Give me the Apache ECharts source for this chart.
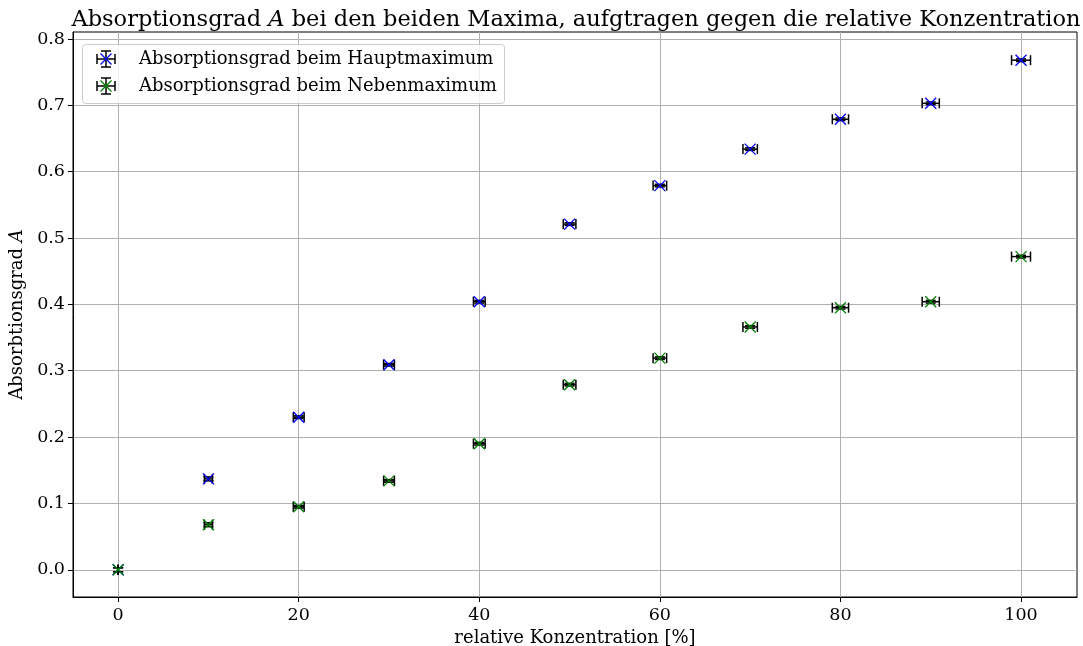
<!DOCTYPE html>
<html>
<head>
<meta charset="utf-8">
<title>Absorptionsgrad</title>
<script src="https://cdn.jsdelivr.net/npm/echarts@6/dist/echarts.min.js"></script>
<style>
  html, body { margin: 0; padding: 0; background: #ffffff; }
  #chart { width: 1083px; height: 646px; }
</style>
</head>
<body>
<div id="chart"></div>
<script>
// relative Konzentration in %
const konzentration = [0, 10, 20, 30, 40, 50, 60, 70, 80, 90, 100];
// Unsicherheit der Konzentration
const konzentrationFehler = [0, 0.45, 0.6, 0.6, 0.65, 0.7, 0.75, 0.8, 0.9, 0.95, 1.05];
// Absorptionsgrad beim Hauptmaximum
const hauptmaximum = [0.0, 0.137, 0.230, 0.309, 0.404, 0.521, 0.579, 0.634, 0.679, 0.703, 0.768];
// Absorptionsgrad beim Nebenmaximum
const nebenmaximum = [0.0, 0.068, 0.095, 0.134, 0.190, 0.279, 0.319, 0.366, 0.395, 0.404, 0.472];
// Unsicherheit des Absorptionsgrads
const absorptionFehler = [0.003, 0.003, 0.002, 0.002, 0.002, 0.002, 0.002, 0.002, 0.002, 0.002, 0.002];

const xTicks = [0, 20, 40, 60, 80, 100];
const yTicks = [0.0, 0.1, 0.2, 0.3, 0.4, 0.5, 0.6, 0.7, 0.8];

const FONT = '"DejaVu Serif", "Liberation Serif", serif';
const BAR_COLOR = '#000000';
const CAP = 5;     // half cap length in px
const MARK = 5.5;  // half marker size in px

function rows(values) {
  return konzentration.map((x, i) => [x, values[i], konzentrationFehler[i], absorptionFehler[i]]);
}

function errorbarItem(color) {
  return function (params, api) {
    const x = api.value(0), y = api.value(1), ex = api.value(2), ey = api.value(3);
    const c = api.coord([x, y]);
    const l = api.coord([x - ex, y]);
    const r = api.coord([x + ex, y]);
    const t = api.coord([x, y + ey]);
    const b = api.coord([x, y - ey]);
    const bar = { stroke: BAR_COLOR, lineWidth: 1.5 };
    const mk = { stroke: color, lineWidth: 1.3 };
    const line = (x1, y1, x2, y2, style) => ({
      type: 'line', shape: { x1, y1, x2, y2 }, style
    });
    return {
      type: 'group',
      children: [
        line(l[0], c[1], r[0], c[1], bar),
        line(l[0], c[1] - CAP, l[0], c[1] + CAP, bar),
        line(r[0], c[1] - CAP, r[0], c[1] + CAP, bar),
        line(c[0], t[1], c[0], b[1], bar),
        line(c[0] - CAP, t[1], c[0] + CAP, t[1], bar),
        line(c[0] - CAP, b[1], c[0] + CAP, b[1], bar),
        line(c[0] - MARK, c[1] - MARK, c[0] + MARK, c[1] + MARK, mk),
        line(c[0] - MARK, c[1] + MARK, c[0] + MARK, c[1] - MARK, mk)
      ]
    };
  };
}

// legend entry icon: error cross with caps and coloured x marker
function legendIcon(cx, cy, color) {
  const bar = { stroke: BAR_COLOR, lineWidth: 1.5 };
  const mk = { stroke: color, lineWidth: 1.3 };
  const ln = (x1, y1, x2, y2, style) => ({ type: 'line', shape: { x1, y1, x2, y2 }, style });
  return [
    ln(cx - 9, cy, cx + 9, cy, bar),
    ln(cx - 9, cy - CAP, cx - 9, cy + CAP, bar),
    ln(cx + 9, cy - CAP, cx + 9, cy + CAP, bar),
    ln(cx, cy - 8, cx, cy + 8, bar),
    ln(cx - CAP, cy - 8, cx + CAP, cy - 8, bar),
    ln(cx - CAP, cy + 8, cx + CAP, cy + 8, bar),
    ln(cx - MARK, cy - MARK, cx + MARK, cy + MARK, mk),
    ln(cx - MARK, cy + MARK, cx + MARK, cy - MARK, mk)
  ];
}

const legendEntries = [
  { name: 'Absorptionsgrad beim Hauptmaximum', color: '#0000ff', y: 59 },
  { name: 'Absorptionsgrad beim Nebenmaximum', color: '#008000', y: 86 }
];

const legendGraphics = [{
  type: 'rect',
  shape: { x: 82.5, y: 44.5, width: 422, height: 59, r: 3 },
  style: { fill: 'rgba(255,255,255,0.8)', stroke: '#cccccc', lineWidth: 1 },
  z: 10
}];
legendEntries.forEach(e => {
  legendIcon(106, e.y, e.color).forEach(g => { g.z = 11; legendGraphics.push(g); });
  legendGraphics.push({
    type: 'text', x: 139, y: e.y, z: 11,
    style: { text: e.name, font: '18px ' + FONT, fill: '#000', textVerticalAlign: 'middle' }
  });
});

const chart = echarts.init(document.getElementById('chart'), null, { renderer: 'canvas' });
chart.setOption({
  backgroundColor: '#ffffff',
  animation: false,
  title: {
    text: '{n|Absorptionsgrad }{i|A}{n| bei den beiden Maxima, aufgtragen gegen die relative Konzentration}',
    left: 571, textAlign: 'center', top: 4,
    textStyle: {
      fontWeight: 'normal',
      rich: {
        n: { fontFamily: FONT, fontSize: 22.5, fontWeight: 'normal', color: '#000' },
        i: { fontFamily: FONT, fontSize: 22.5, fontWeight: 'normal', fontStyle: 'italic', color: '#000' }
      }
    }
  },
  grid: {
    left: 73, right: 6, top: 32, bottom: 49,
    outerBoundsMode: 'none', containLabel: false,
    show: true, borderColor: '#000', borderWidth: 1, backgroundColor: 'transparent'
  },
  xAxis: {
    type: 'value', min: -5, max: 106.2,
    name: 'relative Konzentration [%]', nameLocation: 'middle', nameGap: 28,
    nameTextStyle: { fontFamily: FONT, fontSize: 18, color: '#000' },
    axisLine: { show: true, onZero: false, lineStyle: { color: '#000', width: 1 } },
    axisTick: { show: true, length: 5, lineStyle: { color: '#000', width: 1 }, customValues: xTicks },
    axisLabel: { fontFamily: FONT, fontSize: 17.5, color: '#000', margin: 9, customValues: xTicks,
      formatter: v => String(v) },
    splitLine: { show: true, lineStyle: { color: '#b0b0b0', width: 1 } }
  },
  yAxis: {
    type: 'value', min: -0.041, max: 0.8105,
    name: '{n|Absorbtionsgrad }{i|A}', nameLocation: 'middle', nameGap: 42,
    nameTextStyle: {
      rich: {
        n: { fontFamily: FONT, fontSize: 18, color: '#000' },
        i: { fontFamily: FONT, fontSize: 18, fontStyle: 'italic', color: '#000' }
      }
    },
    axisLine: { show: true, onZero: false, lineStyle: { color: '#000', width: 1 } },
    axisTick: { show: true, length: 5, lineStyle: { color: '#000', width: 1 }, customValues: yTicks },
    axisLabel: { fontFamily: FONT, fontSize: 17.5, color: '#000', margin: 8, customValues: yTicks,
      formatter: v => v.toFixed(1) },
    splitLine: { show: true, lineStyle: { color: '#b0b0b0', width: 1 } }
  },
  series: [
    {
      name: 'Absorptionsgrad beim Hauptmaximum', type: 'custom',
      renderItem: errorbarItem('#0000ff'), data: rows(hauptmaximum),
      encode: { x: 0, y: 1 }, clip: true, z: 3
    },
    {
      name: 'Absorptionsgrad beim Nebenmaximum', type: 'custom',
      renderItem: errorbarItem('#008000'), data: rows(nebenmaximum),
      encode: { x: 0, y: 1 }, clip: true, z: 3
    }
  ],
  graphic: legendGraphics
});
</script>
</body>
</html>
